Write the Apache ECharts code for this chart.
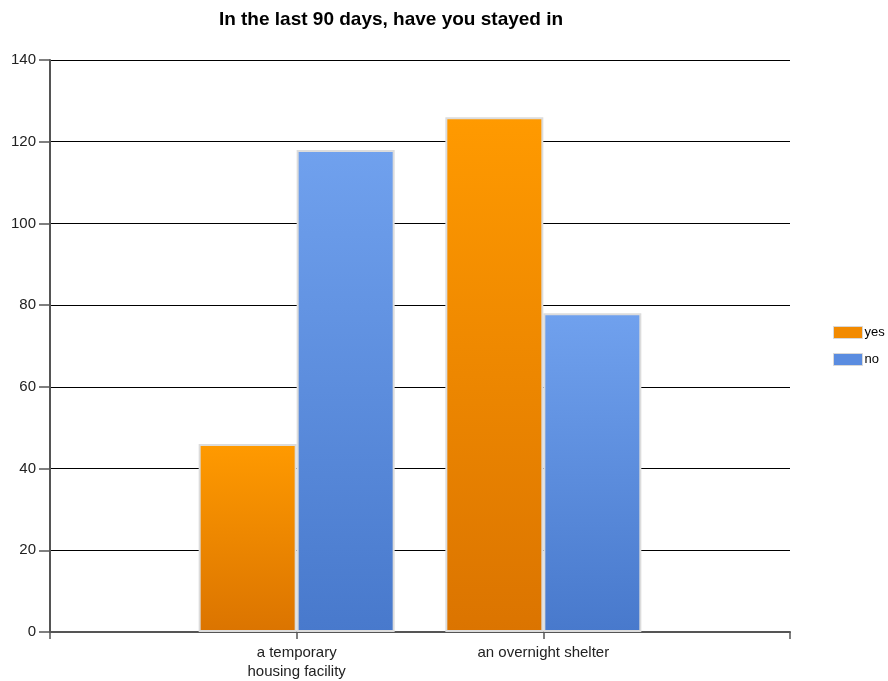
<!DOCTYPE html>
<html><head><meta charset="utf-8">
<script src="https://cdn.jsdelivr.net/npm/echarts@6/dist/echarts.min.js"></script>
<style>html,body{margin:0;padding:0;background:#fff}#c{width:888px;height:681px}</style>
</head><body><div id="c"></div>
<script>
var categories = ['', 'a temporary\nhousing facility', 'an overnight shelter', ''];
var yesValues = [null, 46, 126, null];
var noValues = [null, 118, 78, null];
var yTicks = { min: 0, max: 140, interval: 20 };

var chart = echarts.init(document.getElementById('c'), null, { renderer: 'canvas' });
function grad(top, bottom) {
  return new echarts.graphic.LinearGradient(0, 0, 0, 1, [{ offset: 0, color: top }, { offset: 1, color: bottom }]);
}
chart.setOption({
  animation: false,
  backgroundColor: '#fff',
  title: {
    text: 'In the last 90 days, have you stayed in',
    left: 386, top: 5, textAlign: 'center',
    textStyle: { fontFamily: 'Liberation Sans, Arial', fontSize: 19, fontWeight: 'bold', color: '#000' }
  },
  legend: {
    orient: 'vertical', left: 833, top: 326, padding: 0,
    itemWidth: 29, itemHeight: 12, itemGap: 14,
    icon: 'rect',
    textStyle: { fontFamily: 'Liberation Sans, Arial', fontSize: 13, color: '#000', padding: [0, 0, 0, -3] },
    data: [
      { name: 'yes', itemStyle: { color: '#F28A00', borderColor: '#d8d8d8', borderWidth: 1 } },
      { name: 'no', itemStyle: { color: '#5A8CE0', borderColor: '#d8d8d8', borderWidth: 1 } }
    ]
  },
  grid: { left: 50, right: 98, top: 60, bottom: 49, containLabel: false },
  xAxis: {
    type: 'category', data: categories, boundaryGap: false,
    axisLine: { lineStyle: { color: '#555', width: 2 } },
    axisTick: { show: true, length: 7, lineStyle: { color: '#555', width: 1.5 } },
    axisLabel: { fontFamily: 'Liberation Sans, Arial', fontSize: 15, color: '#222', lineHeight: 19, margin: 11, interval: 0 },
    splitLine: { show: false }
  },
  yAxis: {
    type: 'value', min: yTicks.min, max: yTicks.max, interval: yTicks.interval,
    axisLine: { show: true, lineStyle: { color: '#555', width: 2 } },
    axisTick: { show: true, length: 11, lineStyle: { color: '#555', width: 1.5 } },
    axisLabel: { fontFamily: 'Liberation Sans, Arial', fontSize: 15, color: '#222', margin: 14 },
    splitLine: { show: true, lineStyle: { color: '#000', width: 1.2 } }
  },
  series: [
    {
      name: 'yes', type: 'bar', data: yesValues, barWidth: 98, barGap: '0%',
      itemStyle: { color: grad('#FF9A00', '#DB7400'), borderColor: '#dcdcdc', borderWidth: 2 }
    },
    {
      name: 'no', type: 'bar', data: noValues, barWidth: 98, barGap: '0%',
      itemStyle: { color: grad('#70A1EE', '#4879CC'), borderColor: '#dcdcdc', borderWidth: 2 }
    }
  ]
});
</script></body></html>
